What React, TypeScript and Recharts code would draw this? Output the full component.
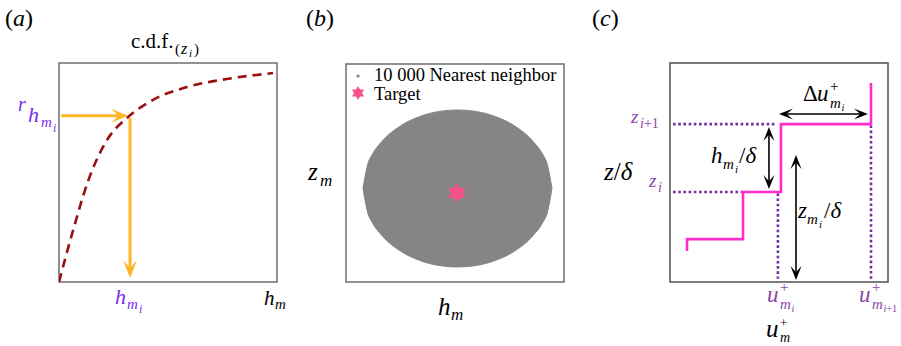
import React from 'react';
import {
  ComposedChart,
  Line,
  Area,
  Scatter,
  XAxis,
  YAxis,
  ReferenceArea,
  ReferenceLine,
} from 'recharts';

// panel (a): c.d.f. curve, normalised axes
const CDF_X = [0, 0.06, 0.135, 0.22, 0.317, 0.43, 0.587, 0.77, 0.982];
const CDF_Y = [0, 0.22, 0.465, 0.648, 0.753, 0.831, 0.89, 0.927, 0.954];

// panel (b): outline of the nearest-neighbour cloud, lower / upper edge
const CLOUD_X = [0.078, 0.1, 0.121, 0.165, 0.251, 0.338, 0.425, 0.512, 0.598, 0.685, 0.772, 0.858, 0.902, 0.923, 0.945];
const CLOUD_LO = [0.429, 0.317, 0.272, 0.213, 0.141, 0.099, 0.076, 0.069, 0.076, 0.099, 0.141, 0.213, 0.272, 0.317, 0.429];
const CLOUD_HI = [0.429, 0.541, 0.586, 0.645, 0.717, 0.759, 0.782, 0.789, 0.782, 0.759, 0.717, 0.645, 0.586, 0.541, 0.429];
const TARGET_X = [0.509];
const TARGET_Y = [0.408];

// panel (c): stepped velocity profile
const STEP_X = [0.078, 0.078, 0.335, 0.335, 0.509, 0.509, 0.922, 0.922];
const STEP_Y = [0.142, 0.196, 0.196, 0.411, 0.411, 0.721, 0.721, 0.909];

const cdf = CDF_X.map((x, i) => ({ x, y: CDF_Y[i] }));
const cloud = CLOUD_X.map((x, i) => ({ x, range: [CLOUD_LO[i], CLOUD_HI[i]] }));
const target = TARGET_X.map((x, i) => ({ x, y: TARGET_Y[i] }));
const steps = STEP_X.map((x, i) => ({ x, y: STEP_Y[i] }));

const SERIF = '"Liberation Serif", "DejaVu Serif", serif';
const ORANGE = '#ffb526';
const DARKRED = '#9a0f0f';
const MAGENTA = '#ff2ccb';
const PINK = '#f7508a';
const VIOLET = '#7a2cf5';
const PURPLE = '#8a45a8';
const DOTS = '#7030a0';

function head(x: number, y: number, ang: number, len: number, half: number) {
  const c = Math.cos(ang);
  const s = Math.sin(ang);
  const bx = x - len * c;
  const by = y - len * s;
  const nx = x - len * 0.55 * c;
  const ny = y - len * 0.55 * s;
  return `M${x},${y} L${bx - half * s},${by + half * c} L${nx},${ny} L${bx + half * s},${by - half * c} Z`;
}

const arrow = (color: string, w: number, len: number, half: number, both: boolean) =>
  (p: any) => {
    const { x1, y1, x2, y2 } = p;
    const ang = Math.atan2(y2 - y1, x2 - x1);
    const c = Math.cos(ang);
    const s = Math.sin(ang);
    const sx1 = both ? x1 + len * 0.5 * c : x1;
    const sy1 = both ? y1 + len * 0.5 * s : y1;
    return (
      <g>
        <line x1={sx1} y1={sy1} x2={x2 - len * 0.5 * c} y2={y2 - len * 0.5 * s} stroke={color} strokeWidth={w} />
        <path d={head(x2, y2, ang, len, half)} fill={color} />
        {both && <path d={head(x1, y1, ang + Math.PI, len, half)} fill={color} />}
      </g>
    );
  };

function hexagram(cx: number, cy: number, r: number) {
  const pt = (deg: number) => {
    const a = (deg * Math.PI) / 180;
    return `${cx + r * Math.cos(a)},${cy + r * Math.sin(a)}`;
  };
  return `M${pt(-90)} L${pt(30)} L${pt(150)} Z M${pt(90)} L${pt(210)} L${pt(330)} Z`;
}

function T({ x, y, s = 22, c = '#000', i = false, children }: any) {
  return (
    <text x={x} y={y} fontSize={s} fill={c} fontStyle={i ? 'italic' : 'normal'} fontFamily={SERIF}>
      {children}
    </text>
  );
}

// u with a "+" above and an m subscript below, kept in one text element
function UPlus({ x, y, s, c = '#000', subI, supY, supS, subY, subS }: any) {
  return (
    <text x={x} y={y} fontSize={s} fill={c} fontFamily={SERIF}>
      <tspan fontStyle="italic">u</tspan>
      <tspan x={x + 0.56 * s} y={supY ?? y - 0.42 * s} fontSize={supS ?? 0.65 * s}>+</tspan>
      <tspan x={x + 0.56 * s} y={subY ?? y + 0.3 * s} fontSize={subS ?? 0.65 * s} fontStyle="italic">m</tspan>
      {subI && (
        <tspan x={x + 1.06 * s} y={y + 0.42 * s} fontSize={0.45 * s}>
          <tspan fontStyle="italic">i</tspan>{subI === 'i+1' ? '+1' : ''}
        </tspan>
      )}
    </text>
  );
}

export default function App() {
  const axes = [
    <XAxis key="x" type="number" dataKey="x" domain={[0, 1]} hide allowDataOverflow />,
    <YAxis key="y" type="number" domain={[0, 1]} hide allowDataOverflow />,
  ];
  return (
    <div style={{ position: 'absolute', left: 0, top: 0, width: 901, height: 346, background: '#fff' }}>
      <div style={{ position: 'absolute', left: 0, top: 0 }}>
        <ComposedChart width={300} height={346} margin={{ top: 63, right: 23, bottom: 64, left: 59 }}>
          {axes}
          <ReferenceArea x1={0} x2={1} y1={0} y2={1} fill="none" stroke="#6e6e6e" strokeWidth={1.5} />
          <Line data={cdf} dataKey="y" type="monotone" stroke={DARKRED} strokeWidth={2.6}
            strokeDasharray="9 6" dot={false} isAnimationActive={false} />
          <ReferenceLine segment={[{ x: 0.01, y: 0.759 }, { x: 0.317, y: 0.759 }]}
            shape={arrow(ORANGE, 3, 17, 7, false)} />
          <ReferenceLine segment={[{ x: 0.326, y: 0.749 }, { x: 0.326, y: 0.018 }]}
            shape={arrow(ORANGE, 3, 18, 7, false)} />
        </ComposedChart>
      </div>
      <div style={{ position: 'absolute', left: 300, top: 0 }}>
        <ComposedChart width={300} height={346} margin={{ top: 64, right: 36, bottom: 64, left: 46 }}>
          {axes}
          <ReferenceArea x1={0} x2={1} y1={0} y2={1} fill="none" stroke="#6e6e6e" strokeWidth={1.5} />
          <Area data={cloud} dataKey="range" type="monotone" fill="#858585" fillOpacity={1}
            stroke="#858585" strokeWidth={1} isAnimationActive={false} />
          <Scatter data={target} dataKey="y" isAnimationActive={false}
            shape={(p: any) => <path d={hexagram(p.cx, p.cy, 10)} fill={PINK} />} />
        </ComposedChart>
      </div>
      <div style={{ position: 'absolute', left: 600, top: 0 }}>
        <ComposedChart width={301} height={346} margin={{ top: 63, right: 13, bottom: 64, left: 70 }}>
          {axes}
          <ReferenceArea x1={0} x2={1} y1={0} y2={1} fill="none" stroke="#505050" strokeWidth={1.5} />
          <ReferenceLine segment={[{ x: 0.014, y: 0.721 }, { x: 0.491, y: 0.721 }]}
            stroke={DOTS} strokeWidth={2.6} strokeDasharray="2.6 2.6" />
          <ReferenceLine segment={[{ x: 0.014, y: 0.411 }, { x: 0.33, y: 0.411 }]}
            stroke={DOTS} strokeWidth={2.6} strokeDasharray="2.6 2.6" />
          <ReferenceLine segment={[{ x: 0.495, y: 0.405 }, { x: 0.495, y: 0.015 }]}
            stroke={DOTS} strokeWidth={2.6} strokeDasharray="2.6 2.6" />
          <ReferenceLine segment={[{ x: 0.922, y: 0.715 }, { x: 0.922, y: 0.015 }]}
            stroke={DOTS} strokeWidth={2.6} strokeDasharray="2.6 2.6" />
          <Line data={steps} dataKey="y" type="linear" stroke={MAGENTA} strokeWidth={2.6}
            dot={false} isAnimationActive={false} />
          <ReferenceLine segment={[{ x: 0.5, y: 0.767 }, { x: 0.908, y: 0.767 }]}
            shape={arrow('#000', 1.6, 14, 5.5, true)} />
          <ReferenceLine segment={[{ x: 0.454, y: 0.708 }, { x: 0.454, y: 0.425 }]}
            shape={arrow('#000', 1.6, 14, 5.5, true)} />
          <ReferenceLine segment={[{ x: 0.578, y: 0.58 }, { x: 0.578, y: 0.009 }]}
            shape={arrow('#000', 1.6, 14, 5.5, true)} />
        </ComposedChart>
      </div>
      <svg width={901} height={346} style={{ position: 'absolute', left: 0, top: 0, pointerEvents: 'none' }}>
        {/* panel (a) */}
        <T x={5} y={26} s={24}>(<tspan fontStyle="italic">a</tspan>)</T>
        <T x={131} y={48} s={21}>c.d.f.</T>
        <T x={175} y={54} s={15}>(</T>
        <T x={181} y={54} s={16} i>z</T>
        <T x={189} y={57} s={11} i>i</T>
        <T x={194} y={54} s={15}>)</T>
        <T x={18} y={111} s={20} i c={VIOLET}>r</T>
        <T x={28} y={122} s={22} i c={VIOLET}>h</T>
        <T x={41} y={127} s={15} i c={VIOLET}>m</T>
        <T x={53} y={132} s={12} i c={VIOLET}>i</T>
        <T x={115} y={304} s={22} i c={VIOLET}>h</T>
        <T x={127} y={309} s={15} i c={VIOLET}>m</T>
        <T x={139} y={313} s={12} i c={VIOLET}>i</T>
        <T x={264} y={305} s={21} i>h</T>
        <T x={275} y={309} s={15} i>m</T>
        {/* panel (b) */}
        <T x={306} y={26} s={24}>(<tspan fontStyle="italic">b</tspan>)</T>
        <circle cx={358} cy={76} r={1.6} fill="#808080" />
        <T x={374} y={81} s={18.5}>10 000 Nearest neighbor</T>
        <path d={hexagram(358, 93, 7)} fill={PINK} />
        <T x={374} y={100} s={18.5}>Target</T>
        <T x={308} y={180} s={25} i>z</T>
        <T x={320} y={186} s={17} i>m</T>
        <T x={438} y={315} s={25} i>h</T>
        <T x={451} y={320} s={17} i>m</T>
        {/* panel (c) */}
        <T x={592} y={26} s={24}>(<tspan fontStyle="italic">c</tspan>)</T>
        <T x={631} y={123} s={19} i c={PURPLE}>z</T>
        <T x={640} y={128} s={14} c={PURPLE}><tspan fontStyle="italic">i</tspan>+1</T>
        <T x={649} y={187} s={19} i c={PURPLE}>z</T>
        <T x={658} y={192} s={14} i c={PURPLE}>i</T>
        <T x={604} y={180} s={25}><tspan fontStyle="italic">z</tspan>/<tspan fontStyle="italic">δ</tspan></T>
        <T x={803} y={101} s={23}>Δ</T>
        <UPlus x={817} y={101} s={23} subI="i" />
        <T x={711} y={163} s={23} i>h</T>
        <T x={723} y={169} s={15} i>m</T>
        <T x={735} y={173} s={11} i>i</T>
        <T x={739} y={163} s={23}>/<tspan fontStyle="italic">δ</tspan></T>
        <T x={798} y={218} s={23} i>z</T>
        <T x={807} y={224} s={15} i>m</T>
        <T x={819} y={228} s={11} i>i</T>
        <T x={824} y={218} s={23}>/<tspan fontStyle="italic">δ</tspan></T>
        <UPlus x={767} y={302} s={23} c={PURPLE} subI="i" />
        <UPlus x={859} y={302} s={23} c={PURPLE} subI="i+1" />
        <UPlus x={766} y={337} s={25} supY={326.5} supS={13} subY={342} subS={14} />
      </svg>
    </div>
  );
}
